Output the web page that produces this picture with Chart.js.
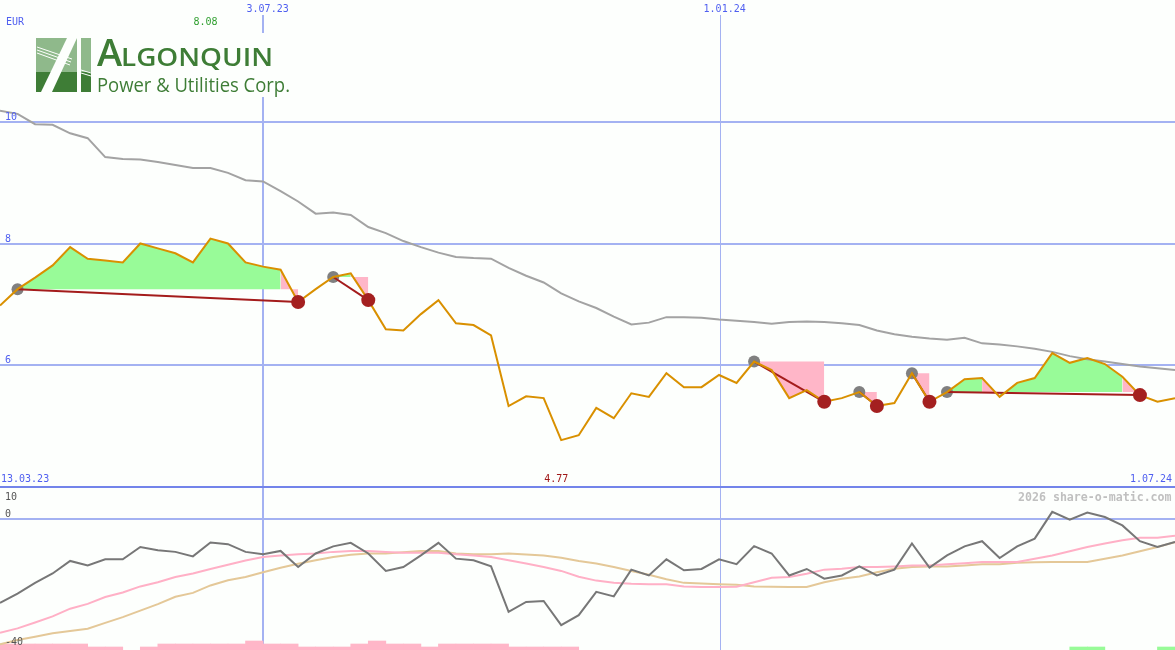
<!DOCTYPE html>
<html>
<head>
<meta charset="utf-8">
<title>Algonquin Power &amp; Utilities Corp. (EUR)</title>
<script src="https://cdn.jsdelivr.net/npm/chart.js@4.4.1/dist/chart.umd.min.js"></script>
<style>
  html, body { margin: 0; padding: 0; background: #fdfffd; }
  #wrap { position: relative; width: 1175px; height: 650px; overflow: hidden; }
  #chart { position: absolute; left: 0; top: 0; }
  #logo { position: absolute; left: 0; top: 0; }
  .lbl { position: absolute; font: 10px "DejaVu Sans Mono", monospace; line-height: 12px; white-space: nowrap; }
</style>
</head>
<body>
<div id="wrap">
  <canvas id="chart" width="1175" height="650"></canvas>
  <svg id="logo" width="300" height="100" viewBox="0 0 300 100">
    <rect x="30" y="33" width="266" height="64" fill="#fdfffd"/>
    <rect x="36" y="38" width="55" height="34" fill="#8fb98b"/>
    <rect x="36" y="72" width="55" height="20" fill="#3e7d36"/>
    <polygon points="41,92 52,92 77,38 67,38" fill="#fdfffd"/>
    <rect x="77" y="38" width="4" height="54" fill="#fdfffd"/>
    <g stroke="#fdfffd" stroke-width="1">
      <line x1="37" y1="47" x2="72" y2="59"/>
      <line x1="37" y1="50" x2="71" y2="62"/>
      <line x1="37" y1="53" x2="70" y2="65"/>
      <line x1="81" y1="70" x2="91" y2="73"/>
      <line x1="81" y1="73" x2="91" y2="76"/>
    </g>
    <text x="97" y="66" font-family="Open Sans" font-weight="600" font-size="38" fill="#3e7d36">A</text>
    <text x="121" y="66" font-family="Open Sans" font-weight="600" font-size="25" fill="#3e7d36" textLength="152" lengthAdjust="spacingAndGlyphs">LGONQUIN</text>
    <text x="97" y="92" font-family="Open Sans" font-size="20" fill="#3e7d36" textLength="193" lengthAdjust="spacingAndGlyphs">Power &amp; Utilities Corp.</text>
  </svg>
</div>
<script>
// weekly closes, 13.03.23 .. 1.07.24 (EUR)
const currency = "EUR";
const startLabel = "13.03.23";
const endLabel = "1.07.24";
const dateTickPos = [15, 41.06];
const dateTickLabels = ["3.07.23", "1.01.24"];
const priceTicks = [10, 8, 6];
const oscTicks = [10, 0, -40];

const price = [6.98, 7.25, 7.44, 7.64, 7.94, 7.75, 7.72, 7.69, 8.00, 7.92,
  7.84, 7.69, 8.08, 8.00, 7.69, 7.62, 7.57, 7.04, 7.25, 7.45,
  7.51, 7.07, 6.59, 6.57, 6.84, 7.07, 6.69, 6.66, 6.49, 5.33,
  5.49, 5.46, 4.77, 4.85, 5.30, 5.13, 5.54, 5.48, 5.87, 5.64,
  5.64, 5.84, 5.71, 6.06, 5.92, 5.46, 5.59, 5.40, 5.46, 5.56,
  5.33, 5.38, 5.87, 5.40, 5.56, 5.77, 5.79, 5.48, 5.71, 5.79,
  6.20, 6.04, 6.12, 6.02, 5.81, 5.51, 5.40, 5.46];

// long moving average (grey)
const avgLong = [10.18, 10.13, 9.96, 9.95, 9.81, 9.73, 9.42, 9.39, 9.38, 9.34,
  9.29, 9.24, 9.24, 9.16, 9.04, 9.02, 8.86, 8.69, 8.49, 8.51,
  8.47, 8.27, 8.17, 8.04, 7.94, 7.85, 7.78, 7.76, 7.75, 7.60,
  7.47, 7.36, 7.18, 7.05, 6.94, 6.80, 6.67, 6.70, 6.79, 6.79,
  6.78, 6.75, 6.73, 6.71, 6.68, 6.71, 6.72, 6.71, 6.69, 6.66,
  6.57, 6.51, 6.47, 6.44, 6.42, 6.45, 6.36, 6.34, 6.31, 6.27,
  6.22, 6.15, 6.10, 6.06, 6.02, 5.98, 5.95, 5.92];

// lower panel
const osc = [-25.9, -23.0, -19.7, -16.8, -12.9, -14.3, -12.4, -12.4, -8.6, -9.6,
  -10.1, -11.5, -7.2, -7.7, -10.1, -10.8, -9.8, -14.8, -10.6, -8.4,
  -7.3, -10.6, -16.0, -14.8, -11.2, -7.3, -12.2, -12.7, -14.6, -28.7,
  -25.6, -25.3, -32.8, -29.7, -22.5, -23.9, -15.6, -17.4, -12.4, -15.8,
  -15.4, -12.4, -13.9, -8.3, -10.6, -17.4, -15.4, -18.4, -17.4, -14.6,
  -17.4, -15.6, -7.5, -15.0, -11.2, -8.4, -6.8, -12.0, -8.4, -6.0,
  2.3, -0.1, 2.1, 0.7, -1.9, -6.8, -8.6, -7.0];
const oscFast = [-35.2, -33.8, -32.0, -30.1, -27.7, -26.2, -24.1, -22.7, -20.8, -19.5,
  -17.9, -16.8, -15.4, -14.1, -12.8, -11.7, -11.2, -10.8, -10.6, -10.1,
  -9.8, -9.8, -10.1, -10.4, -10.4, -10.4, -10.8, -11.2, -11.7, -12.7,
  -13.7, -14.8, -16.0, -17.8, -19.0, -19.7, -20.0, -20.1, -20.1, -20.8,
  -21.0, -21.0, -20.9, -19.5, -18.1, -17.9, -16.9, -15.6, -15.3, -14.8,
  -14.8, -14.6, -14.3, -14.3, -13.9, -13.6, -13.2, -13.2, -13.2, -12.2,
  -11.2, -9.9, -8.6, -7.5, -6.5, -5.7, -5.7, -5.1];
const oscSlow = [-38.7, -37.4, -36.4, -35.3, -34.6, -33.9, -32.1, -30.3, -28.3, -26.3,
  -24.0, -22.8, -20.5, -18.9, -17.9, -16.4, -15.0, -13.8, -12.7, -11.7,
  -11.0, -10.6, -10.6, -10.2, -9.8, -9.8, -10.6, -10.8, -10.8, -10.6,
  -10.9, -11.2, -11.9, -12.9, -13.7, -14.8, -16.0, -17.2, -18.6, -19.7,
  -19.9, -20.1, -20.3, -20.8, -20.9, -21.0, -21.0, -19.5, -18.4, -17.7,
  -16.4, -15.3, -14.8, -14.6, -14.6, -14.3, -13.9, -13.9, -13.5, -13.3,
  -13.2, -13.2, -13.2, -12.2, -11.2, -9.9, -8.6, -7.1];

// bars along the bottom, one per week interval
const volLevel = [2, 2, 2, 2, 2, 1, 1, 0, 1, 2, 2, 2, 2, 2, 3, 2, 2, 1, 1, 1,
  2, 3, 2, 2, 1, 2, 2, 2, 2, 1, 1, 1, 1, 0, 0, 0, 0, 0, 0, 0,
  0, 0, 0, 0, 0, 0, 0, 0, 0, 0, 0, 0, 0, 0, 0, 0, 0, 0, 0, 0,
  0, 1, 1, 0, 0, 0, 1];
const volGreen = [61, 62, 66];

// signals: grey dot = entry, red dot = exit
const tradeEntry = [1, 19, 43, 49, 52, 54];
const tradeExit = [17, 21, 47, 50, 53, 65];

const GREEN = "#98fb98";
const PINK = "#ffb6c8";
const BLUE_GRID = "#a4b2f2";

const xy = (arr) => arr.map((v, i) => ({ x: i, y: v }));

function fillRun(a, b, base, up) {
  const pts = [];
  for (let k = a; k <= b; k++) pts.push({ x: k, y: price[k] });
  return {
    type: "line", data: pts, yAxisID: "y",
    borderColor: "rgba(0,0,0,0)", borderWidth: 0, pointRadius: 0,
    backgroundColor: up ? GREEN : PINK,
    fill: { target: { value: base } },
    order: 6,
  };
}

const fillSets = [];
const tradeLines = [];
tradeEntry.forEach((e, t) => {
  const x = tradeExit[t];
  const base = price[e];
  let runStart = e;
  let runUp = price[e + 1] > base;
  for (let j = e + 1; j <= x; j++) {
    const up = price[j] > base;
    if (up !== runUp) {
      fillSets.push(fillRun(runStart, j - 1, base, runUp));
      runStart = j - 1;
      runUp = up;
    }
  }
  fillSets.push(fillRun(runStart, x, base, runUp));
  tradeLines.push({
    type: "line", yAxisID: "y",
    data: [{ x: e, y: price[e] }, { x: x, y: price[x] }],
    borderColor: "#a41c1c", borderWidth: 2, pointRadius: 0, order: 3,
  });
});

const volData = volLevel.map((v, j) => ({ x: j + 0.5, y: v > 0 ? v : null }));
const volColors = volLevel.map((v, j) => (volGreen.includes(j) ? GREEN : PINK));

const datasets = [
  {
    type: "line", data: tradeExit.map((i) => ({ x: i, y: price[i] })), yAxisID: "y",
    showLine: false, pointRadius: 7, pointBackgroundColor: "#a42020", pointBorderWidth: 0, order: 0,
  },
  {
    type: "line", data: xy(price), yAxisID: "y",
    borderColor: "#d99000", borderWidth: 2, pointRadius: 0, order: 1,
  },
  {
    type: "line", data: tradeEntry.map((i) => ({ x: i, y: price[i] })), yAxisID: "y",
    showLine: false, pointRadius: 6, pointBackgroundColor: "#808080", pointBorderWidth: 0, order: 4,
  },
  ...tradeLines,
  {
    type: "line", data: xy(avgLong), yAxisID: "y",
    borderColor: "#a3a3a3", borderWidth: 2, pointRadius: 0, order: 5,
  },
  ...fillSets,
  {
    type: "line", data: xy(osc), yAxisID: "y2",
    borderColor: "#777777", borderWidth: 2, pointRadius: 0, order: 7,
  },
  {
    type: "line", data: xy(oscFast), yAxisID: "y2",
    borderColor: "#ffb0c6", borderWidth: 2, pointRadius: 0, order: 8,
  },
  {
    type: "line", data: xy(oscSlow), yAxisID: "y2",
    borderColor: "#e4c898", borderWidth: 2, pointRadius: 0, order: 9,
  },
  {
    type: "bar", data: volData, yAxisID: "yv",
    backgroundColor: volColors, borderWidth: 0,
    barPercentage: 1, categoryPercentage: 1, order: 10,
  },
];

const hiddenTicks = { display: false };
const chart = new Chart(document.getElementById("chart"), {
  data: { datasets },
  options: {
    responsive: false,
    animation: false,
    events: [],
    layout: { padding: 0, autoPadding: false },
    plugins: { legend: { display: false }, tooltip: { enabled: false } },
    scales: {
      x: {
        type: "linear", min: 0, max: 67, position: "bottom", offset: false,
        afterBuildTicks: (s) => { s.ticks = dateTickPos.map((v) => ({ value: v })); },
        ticks: hiddenTicks,
        border: { display: false },
        grid: {
          offset: false, drawTicks: false, color: BLUE_GRID,
          lineWidth: (c) => (c.index === 0 ? 2 : 1),
        },
      },
      y: {
        type: "linear", min: 4, max: 12, position: "right",
        stack: "panels", stackWeight: 487,
        afterBuildTicks: (s) => { s.ticks = priceTicks.map((v) => ({ value: v })); },
        ticks: hiddenTicks,
        border: { display: false },
        grid: { drawTicks: false, color: BLUE_GRID, lineWidth: 2 },
      },
      y2: {
        type: "linear", min: -40.5, max: 10, position: "right",
        stack: "panels", stackWeight: 163,
        afterBuildTicks: (s) => { s.ticks = [10, 0].map((v) => ({ value: v })); },
        ticks: hiddenTicks,
        border: { display: false },
        grid: {
          drawTicks: false, lineWidth: 2,
          color: (c) => (c.tick && c.tick.value === 10 ? "#7384ea" : BLUE_GRID),
        },
      },
      yv: {
        type: "linear", min: 0, max: 650 / 3, position: "left",
        display: false,
      },
    },
  },
});

// text labels, placed from the chart's own scales
const wrap = document.getElementById("wrap");
function addLabel(text, x, cy, color, align, extra) {
  const d = document.createElement("div");
  d.className = "lbl";
  d.textContent = text;
  d.style.color = color;
  Object.assign(d.style, extra || {});
  d.style.top = cy - 6 + "px";
  wrap.appendChild(d);
  const w = d.offsetWidth;
  let left = x;
  if (align === "center") left = x - w / 2;
  if (align === "right") left = x - w;
  d.style.left = left + "px";
}

const sx = chart.scales.x, sy = chart.scales.y, sy2 = chart.scales.y2;
const BLUE = "#4f5ff0";
addLabel(currency, 6, 21.5, BLUE, "left");

const hi = Math.max(...price), lo = Math.min(...price);
addLabel(hi.toFixed(2), sx.getPixelForValue(price.indexOf(hi)) - 5, 21.5, "#2f9f2f", "center");
addLabel(lo.toFixed(2), sx.getPixelForValue(price.indexOf(lo)) - 5, 479, "#a01818", "center");

// date labels sit on a patch of page colour that hides the top of their grid line
dateTickPos.forEach((v, k) => {
  addLabel(dateTickLabels[k], sx.getPixelForValue(v) - 16.5, 9, BLUE, "left",
    { background: "#fdfffd", paddingTop: "4px", marginTop: "-4px" });
});
priceTicks.forEach((v) => addLabel(String(v), 5, sy.getPixelForValue(v) - 5, BLUE, "left"));

addLabel(startLabel, 1, 479, BLUE, "left");
addLabel(endLabel, 1172, 479, BLUE, "right");

addLabel(String(oscTicks[0]), 5, sy2.getPixelForValue(oscTicks[0]) + 9.5, "#555555", "left");
addLabel(String(oscTicks[1]), 5, sy2.getPixelForValue(oscTicks[1]) - 5.3, "#555555", "left");
addLabel(String(oscTicks[2]), 5, sy2.getPixelForValue(oscTicks[2]) - 6.4, "#555555", "left");

addLabel("2026 share-o-matic.com", 1172, 496.5, "#c0c0c0", "right",
  { fontSize: "11.6px", fontWeight: "bold" });
</script>
</body>
</html>
